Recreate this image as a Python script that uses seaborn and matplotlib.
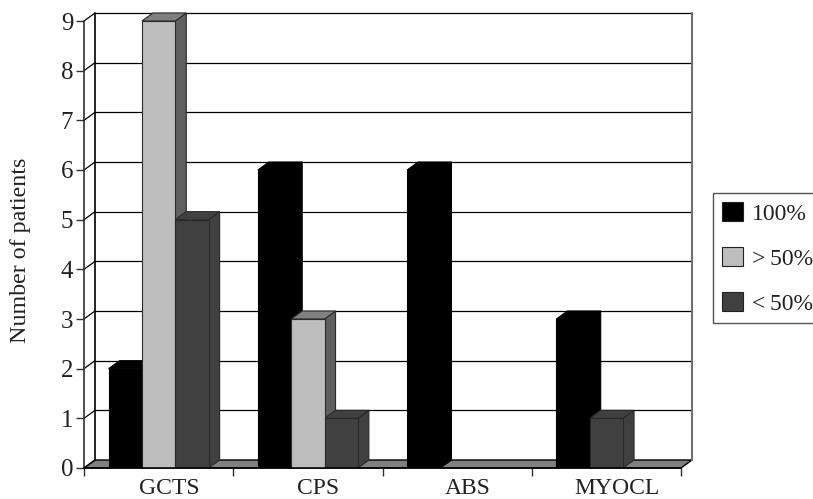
import matplotlib
matplotlib.use("Agg")
from matplotlib import pyplot as plt
from matplotlib.patches import Polygon, Patch
from matplotlib.transforms import ScaledTranslation
import seaborn as sns
import pandas as pd

categories = ["GCTS", "CPS", "ABS", "MYOCL"]
series_names = ["100%", ">\u200950%", "<\u200950%"]
values_100 = [2, 6, 6, 3]
values_over50 = [9, 3, 0, 0]
values_under50 = [5, 1, 0, 1]
y_ticks = [0, 1, 2, 3, 4, 5, 6, 7, 8, 9]

front_colors = ["#000000", "#bdbdbd", "#404040"]
top_colors = ["#000000", "#808080", "#404040"]
side_colors = ["#000000", "#5f5f5f", "#404040"]

W, H = 813, 499
# front plane of the fake 3d box, in pixels
left, right, bottom, top = 84, 681, 468, 21
dx_px, dy_px = 11, 8

sns.set_theme(style="white")
plt.rcParams["font.family"] = ["Liberation Serif", "DejaVu Serif"]

df = pd.DataFrame({
    "category": categories * 3,
    "series": [s for s in series_names for _ in categories],
    "value": values_100 + values_over50 + values_under50,
})

fig = plt.figure(figsize=(W / 100, H / 100), dpi=100)
ax = fig.add_axes([left / W, 1 - bottom / H, (right - left) / W, (bottom - top) / H])
ax.patch.set_visible(False)

sns.barplot(data=df, x="category", y="value", hue="series", order=categories,
            hue_order=series_names, palette=front_colors, width=0.67, gap=0,
            saturation=1, legend=False, ax=ax, zorder=3)
ax.set_xlim(-0.5, 3.5)
ax.set_ylim(0, 9)

# depth offset expressed in data units
dx = dx_px * 4 / (right - left)
dy = dy_px * 9 / (bottom - top)
x0, x1 = -0.5, 3.5

# floor
ax.add_patch(Polygon([(x0, 0), (x1, 0), (x1 + dx, dy), (x0 + dx, dy)], closed=True,
                     facecolor="#808080", edgecolor="black", lw=1.0, clip_on=False, zorder=1))

# back wall and grid
for v in y_ticks[1:]:
    ax.plot([x0 + dx, x1 + dx], [v + dy, v + dy], color="black", lw=0.9, clip_on=False, zorder=1)
for v in y_ticks:
    ax.plot([x0, x0 + dx], [v, v + dy], color="black", lw=0.9, clip_on=False, zorder=1)
ax.plot([x0 + dx, x0 + dx], [dy, 9 + dy], color="black", lw=1.2, clip_on=False, zorder=1)
ax.plot([x1 + dx, x1 + dx], [dy, 9 + dy], color="#707070", lw=1.5, clip_on=False, zorder=1)

# the original closes up a group when the middle bar is missing
for j in range(len(categories)):
    mid, last = ax.containers[1][j], ax.containers[2][j]
    if mid.get_height() == 0 and last.get_height() > 0:
        last.set_x(mid.get_x())

# top and side faces of each bar
for i, cont in enumerate(ax.containers):
    for bar in cont:
        h = bar.get_height()
        if h == 0:
            bar.set_visible(False)
            continue
        a, b = bar.get_x(), bar.get_x() + bar.get_width()
        edge = "black" if i == 0 else "#2a2a2a"
        bar.set_edgecolor(edge)
        bar.set_linewidth(0.8)
        ax.add_patch(Polygon([(b, 0), (b + dx, dy), (b + dx, h + dy), (b, h)], closed=True,
                             facecolor=side_colors[i], edgecolor=edge, lw=0.8,
                             clip_on=False, zorder=2.5 + 0.1 * i))
        ax.add_patch(Polygon([(a, h), (b, h), (b + dx, h + dy), (a + dx, h + dy)], closed=True,
                             facecolor=top_colors[i], edgecolor=edge, lw=0.8,
                             clip_on=False, zorder=2.5 + 0.1 * i))

for s in ["top", "right"]:
    ax.spines[s].set_visible(False)
ax.spines["left"].set_color("#303030")
ax.spines["left"].set_linewidth(1.2)
ax.spines["bottom"].set_color("black")
ax.spines["bottom"].set_linewidth(1.1)
ax.spines["bottom"].set_zorder(4)

ax.set_yticks(y_ticks)
ax.set_yticklabels([str(v) for v in y_ticks], fontsize=18, color="#222222")
ax.tick_params(axis="y", left=True, length=5.8, width=1, color="#303030", pad=2)
# x ticks sit between the groups, labels in the middle
ax.set_xticks([-0.5, 0.5, 1.5, 2.5, 3.5])
ax.set_xticklabels([])
ax.set_xticks([0, 1, 2, 3], minor=True)
ax.set_xticklabels(categories, minor=True, fontsize=17, color="#222222")
ax.tick_params(axis="x", which="major", bottom=True, length=5.8, width=1, color="#303030")
ax.tick_params(axis="x", which="minor", bottom=False, length=0, pad=7)
# labels are centred a bit right of the groups in the original
shift = ScaledTranslation(10.5 / 100, 0, fig.dpi_scale_trans)
for lab in ax.get_xticklabels(minor=True):
    lab.set_transform(lab.get_transform() + shift)

ax.set_xlabel("")
ax.set_ylabel("Number of patients", fontsize=17.3, color="#222222")
ax.yaxis.set_label_coords((31 - left) / (right - left), (bottom - 250) / (bottom - top))

handles = [Patch(facecolor=c, edgecolor="#222222", lw=0.8) for c in front_colors]
leg = fig.legend(handles, series_names, loc="upper left",
                 bbox_to_anchor=(713 / W, 1 - 193 / H), bbox_transform=fig.transFigure,
                 fontsize=17, frameon=True, fancybox=False, edgecolor="#555555",
                 framealpha=1, handlelength=0.89, handleheight=0.89, handletextpad=0.38,
                 labelspacing=0.93, borderpad=0.38, borderaxespad=0, labelcolor="#222222")
leg.get_frame().set_linewidth(1.0)

fig.savefig("out.png", dpi=100)
